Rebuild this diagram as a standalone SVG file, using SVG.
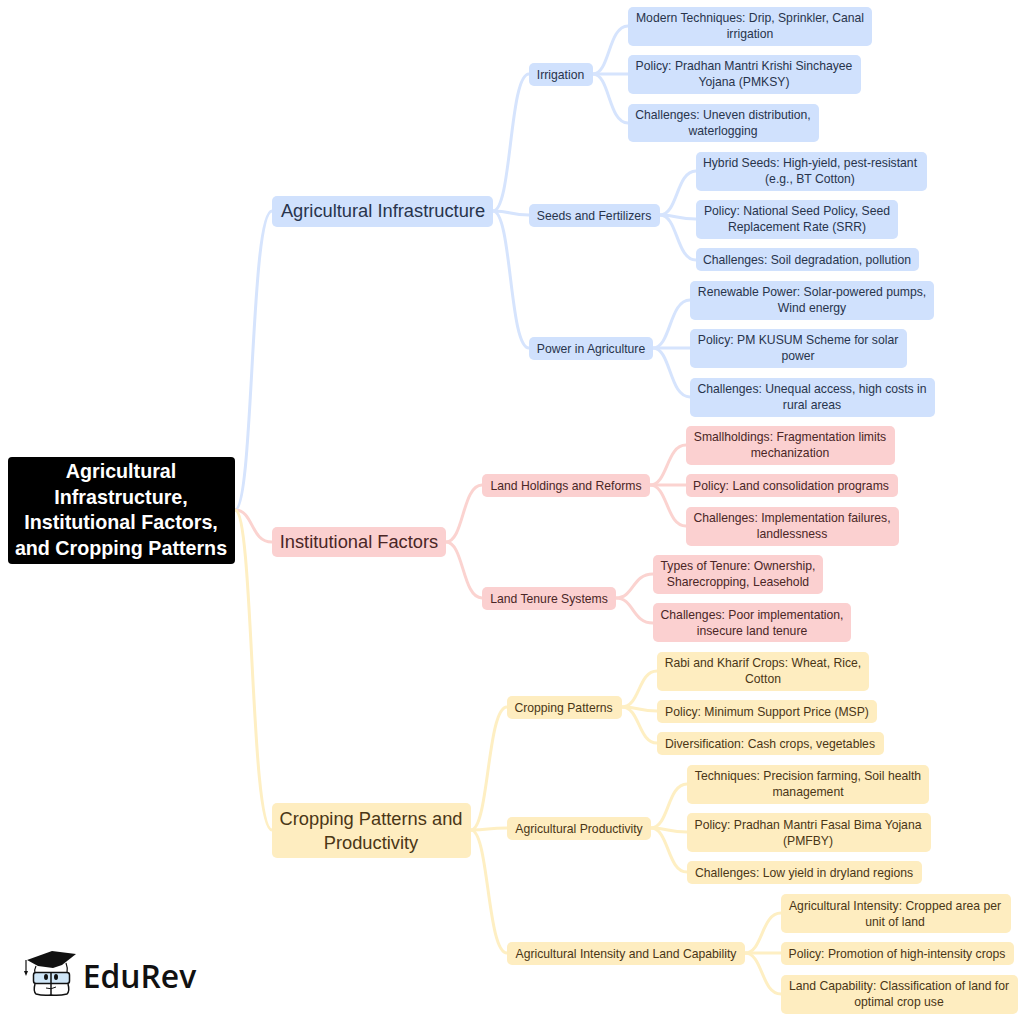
<svg xmlns="http://www.w3.org/2000/svg" width="1024" height="1020" viewBox="0 0 1024 1020">
<style>
text{font-family:"Liberation Sans",Arial,sans-serif;text-anchor:middle}
.l3{font-size:12.2px}.l2{font-size:12.2px}.l1{font-size:18.3px}
.root{font-size:19.7px;font-weight:bold;fill:#fff}
.b rect{fill:#d0e1fd}.b text{fill:#28344c}
.r rect{fill:#fbd0d0}.r text{fill:#4a2626}
.y rect{fill:#feedc0}.y text{fill:#4a3616}
#connectors path{fill:none;stroke-width:3}
.cb{stroke:#d6e4fd}.cr{stroke:#fbd3d0}.cy{stroke:#feefc3}
</style>
<rect width="1024" height="1020" fill="#fff"/>
<g id="connectors">
<path class="cb" d="M235 510C254 510 250 211 272 211"/>
<path class="cr" d="M235 510C254 510 250 542 272 542"/>
<path class="cy" d="M235 510C254 510 250 830 272 830"/>
<path class="cb" d="M493 211C512 211 509 74 529 74"/>
<path class="cb" d="M493 211C512 211 509 215 529 215"/>
<path class="cb" d="M493 211C512 211 509 348 529 348"/>
<path class="cb" d="M593 74C610 74 608 26 628 26"/>
<path class="cb" d="M593 74C610 74 608 74 628 74"/>
<path class="cb" d="M593 74C610 74 608 123 628 123"/>
<path class="cb" d="M660 215C678 215 676 171 696 171"/>
<path class="cb" d="M660 215C678 215 676 219 696 219"/>
<path class="cb" d="M660 215C678 215 676 260 696 260"/>
<path class="cb" d="M653 348C671 348 669 300 690 300"/>
<path class="cb" d="M653 348C671 348 669 348 690 348"/>
<path class="cb" d="M653 348C671 348 669 397 690 397"/>
<path class="cr" d="M446 542C464 542 462 485 482 485"/>
<path class="cr" d="M446 542C464 542 462 598 482 598"/>
<path class="cr" d="M650 485C668 485 666 445 686 445"/>
<path class="cr" d="M650 485C668 485 666 485 686 485"/>
<path class="cr" d="M650 485C668 485 666 526 686 526"/>
<path class="cr" d="M616 598C634 598 632 574 653 574"/>
<path class="cr" d="M616 598C634 598 632 623 653 623"/>
<path class="cy" d="M471 830C489 830 487 707 507 707"/>
<path class="cy" d="M471 830C489 830 487 828 507 828"/>
<path class="cy" d="M471 830C489 830 487 953 507 953"/>
<path class="cy" d="M622 707C640 707 638 671 657 671"/>
<path class="cy" d="M622 707C640 707 638 711 657 711"/>
<path class="cy" d="M622 707C640 707 638 743 657 743"/>
<path class="cy" d="M651 828C669 828 667 784 687 784"/>
<path class="cy" d="M651 828C669 828 667 832 687 832"/>
<path class="cy" d="M651 828C669 828 667 872 687 872"/>
<path class="cy" d="M745 953C763 953 761 913 781 913"/>
<path class="cy" d="M745 953C763 953 761 953 781 953"/>
<path class="cy" d="M745 953C763 953 761 994 781 994"/>
</g>
<g id="root"><rect x="8" y="457" width="227" height="107" rx="4" fill="#000"/>
<text class="root" x="121" y="478">Agricultural</text><text class="root" x="121" y="504">Infrastructure,</text><text class="root" x="121" y="529">Institutional Factors,</text><text class="root" x="121" y="555">and Cropping Patterns</text></g>
<g id="n-infra" class="b"><rect x="272" y="196" width="221" height="31" rx="5"/><text class="l1" x="383" y="217">Agricultural Infrastructure</text></g>
<g id="n-irrigation" class="b"><rect x="529" y="63" width="64" height="23" rx="5"/><text class="l2" x="560.500" y="78.600">Irrigation</text></g>
<g id="n-irr1" class="b"><rect x="628" y="7" width="244" height="39" rx="5"/><text class="l3" x="750" y="22">Modern Techniques: Drip, Sprinkler, Canal</text><text class="l3" x="750" y="38">irrigation</text></g>
<g id="n-irr2" class="b"><rect x="628" y="55" width="233" height="39" rx="5"/><text class="l3" x="744" y="70">Policy: Pradhan Mantri Krishi Sinchayee</text><text class="l3" x="744" y="86">Yojana (PMKSY)</text></g>
<g id="n-irr3" class="b"><rect x="628" y="104" width="191" height="38" rx="5"/><text class="l3" x="723" y="119">Challenges: Uneven distribution,</text><text class="l3" x="723" y="135">waterlogging</text></g>
<g id="n-seeds" class="b"><rect x="529" y="204" width="131" height="23" rx="5"/><text class="l2" x="594" y="219.600">Seeds and Fertilizers</text></g>
<g id="n-s1" class="b"><rect x="696" y="152" width="231" height="39" rx="5"/><text class="l3" x="810" y="167">Hybrid Seeds: High-yield, pest-resistant</text><text class="l3" x="810" y="183">(e.g., BT Cotton)</text></g>
<g id="n-s2" class="b"><rect x="696" y="200" width="202" height="39" rx="5"/><text class="l3" x="797" y="215">Policy: National Seed Policy, Seed</text><text class="l3" x="797" y="231">Replacement Rate (SRR)</text></g>
<g id="n-s3" class="b"><rect x="696" y="248" width="223" height="23" rx="5"/><text class="l3" x="807" y="264">Challenges: Soil degradation, pollution</text></g>
<g id="n-power" class="b"><rect x="529" y="337" width="124" height="23" rx="5"/><text class="l2" x="591" y="352.600">Power in Agriculture</text></g>
<g id="n-p1" class="b"><rect x="690" y="281" width="244" height="39" rx="5"/><text class="l3" x="812" y="296">Renewable Power: Solar-powered pumps,</text><text class="l3" x="812" y="312">Wind energy</text></g>
<g id="n-p2" class="b"><rect x="690" y="329" width="217" height="39" rx="5"/><text class="l3" x="798" y="344">Policy: PM KUSUM Scheme for solar</text><text class="l3" x="798" y="360">power</text></g>
<g id="n-p3" class="b"><rect x="690" y="378" width="245" height="39" rx="5"/><text class="l3" x="812" y="393">Challenges: Unequal access, high costs in</text><text class="l3" x="812" y="409">rural areas</text></g>
<g id="n-inst" class="r"><rect x="272" y="527" width="174" height="30" rx="5"/><text class="l1" x="359" y="548">Institutional Factors</text></g>
<g id="n-land" class="r"><rect x="482" y="474" width="168" height="23" rx="5"/><text class="l2" x="566" y="489.600">Land Holdings and Reforms</text></g>
<g id="n-l1" class="r"><rect x="686" y="426" width="209" height="39" rx="5"/><text class="l3" x="790" y="441">Smallholdings: Fragmentation limits</text><text class="l3" x="790" y="457">mechanization</text></g>
<g id="n-l2" class="r"><rect x="686" y="474" width="212" height="23" rx="5"/><text class="l3" x="791" y="489.600">Policy: Land consolidation programs</text></g>
<g id="n-l3" class="r"><rect x="686" y="507" width="213" height="39" rx="5"/><text class="l3" x="792" y="522">Challenges: Implementation failures,</text><text class="l3" x="792" y="538">landlessness</text></g>
<g id="n-tenure" class="r"><rect x="482" y="587" width="134" height="23" rx="5"/><text class="l2" x="549" y="602.600">Land Tenure Systems</text></g>
<g id="n-t1" class="r"><rect x="653" y="555" width="170" height="39" rx="5"/><text class="l3" x="738" y="570">Types of Tenure: Ownership,</text><text class="l3" x="738" y="586">Sharecropping, Leasehold</text></g>
<g id="n-t2" class="r"><rect x="653" y="603" width="198" height="39" rx="5"/><text class="l3" x="752" y="619">Challenges: Poor implementation,</text><text class="l3" x="752" y="635">insecure land tenure</text></g>
<g id="n-crop" class="y"><rect x="272" y="803" width="199" height="55" rx="5"/><text class="l1" x="371" y="825">Cropping Patterns and</text><text class="l1" x="371" y="849">Productivity</text></g>
<g id="n-cp" class="y"><rect x="507" y="696" width="115" height="23" rx="5"/><text class="l2" x="563.500" y="711.600">Cropping Patterns</text></g>
<g id="n-c1" class="y"><rect x="657" y="652" width="212" height="39" rx="5"/><text class="l3" x="763" y="667">Rabi and Kharif Crops: Wheat, Rice,</text><text class="l3" x="763" y="683">Cotton</text></g>
<g id="n-c2" class="y"><rect x="657" y="700" width="220" height="23" rx="5"/><text class="l3" x="767" y="715.600">Policy: Minimum Support Price (MSP)</text></g>
<g id="n-c3" class="y"><rect x="657" y="732" width="227" height="23" rx="5"/><text class="l3" x="770" y="748">Diversification: Cash crops, vegetables</text></g>
<g id="n-prod" class="y"><rect x="507" y="817" width="144" height="23" rx="5"/><text class="l2" x="579" y="832.600">Agricultural Productivity</text></g>
<g id="n-d1" class="y"><rect x="687" y="765" width="242" height="39" rx="5"/><text class="l3" x="808" y="780">Techniques: Precision farming, Soil health</text><text class="l3" x="808" y="796">management</text></g>
<g id="n-d2" class="y"><rect x="687" y="813" width="244" height="39" rx="5"/><text class="l3" x="808" y="829">Policy: Pradhan Mantri Fasal Bima Yojana</text><text class="l3" x="808" y="845">(PMFBY)</text></g>
<g id="n-d3" class="y"><rect x="687" y="861" width="235" height="23" rx="5"/><text class="l3" x="804" y="877">Challenges: Low yield in dryland regions</text></g>
<g id="n-int" class="y"><rect x="507" y="942" width="238" height="23" rx="5"/><text class="l2" x="626" y="958">Agricultural Intensity and Land Capability</text></g>
<g id="n-i1" class="y"><rect x="781" y="894" width="230" height="39" rx="5"/><text class="l3" x="895" y="910">Agricultural Intensity: Cropped area per</text><text class="l3" x="895" y="926">unit of land</text></g>
<g id="n-i2" class="y"><rect x="781" y="942" width="233" height="23" rx="5"/><text class="l3" x="897" y="958">Policy: Promotion of high-intensity crops</text></g>
<g id="n-i3" class="y"><rect x="781" y="975" width="237" height="39" rx="5"/><text class="l3" x="899" y="990">Land Capability: Classification of land for</text><text class="l3" x="899" y="1006">optimal crop use</text></g>
<g id="logo" fill="none" stroke="#111">
<path d="M27 960L52 951L76 954L62 965L53 968L38 966Z" fill="#111" stroke="none"/>
<path d="M26 960V972" stroke-width="1.200"/><path d="M24 971H28L26 976Z" fill="#111" stroke="none"/>
<path d="M36 966Q34 970 35 973M66 963Q68 968 67 973" stroke-width="1.200"/>
<rect x="33.500" y="972.500" width="36" height="11" rx="2.500" fill="#cfe6f7" stroke-width="1.500"/>
<path d="M51 972V995" stroke-width="1.500"/>
<path d="M35 984Q33 991 36 994Q43 996 51 995Q59 996 67 994Q70 991 68 984" stroke-width="1.500"/>
<ellipse cx="46" cy="977" rx="2" ry="3" fill="#111" stroke="none"/><ellipse cx="56" cy="977" rx="2" ry="3" fill="#111" stroke="none"/>
<path d="M46 988Q51 990 56 987" stroke-width="1"/>
<text x="139.500" y="988" font-size="31.800" font-weight="600" fill="#111" stroke="none" style="font-family:'Open Sans','Liberation Sans',sans-serif">EduRev</text>
</g>
</svg>
